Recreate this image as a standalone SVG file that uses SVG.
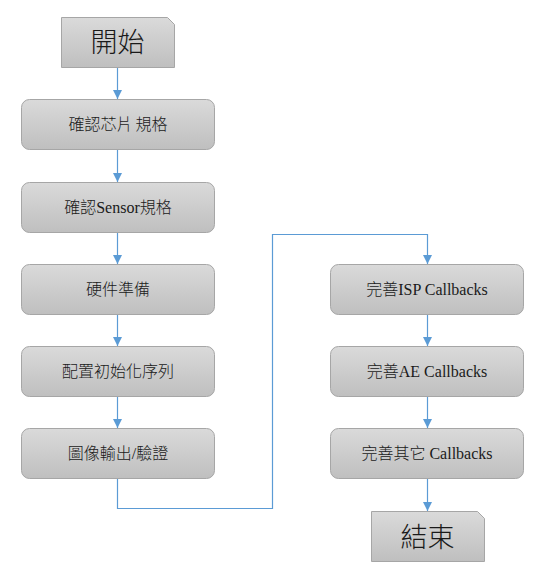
<svg xmlns="http://www.w3.org/2000/svg" width="533" height="570" viewBox="0 0 533 570">
<style>
.box{fill:url(#g);stroke:#a6a6a6;stroke-width:1}
.t{font-family:"Liberation Serif","Noto Sans CJK TC",serif;font-size:16px;font-weight:300;fill:#1a1a1a;text-anchor:middle}
.big{font-family:"Noto Sans CJK TC","Liberation Serif",sans-serif;font-size:27px;font-weight:300;fill:#1a1a1a;text-anchor:middle}
.c{fill:none;stroke:#5b9bd5;stroke-width:1.2}
</style>
<defs>
<linearGradient id="g" x1="0" y1="0" x2="0" y2="1">
<stop offset="0" stop-color="#dadada"/>
<stop offset="1" stop-color="#bfbfbf"/>
</linearGradient>
<marker id="a" viewBox="0 0 10 10" refX="10" refY="5" markerWidth="9" markerHeight="9" markerUnits="userSpaceOnUse" orient="auto">
<path d="M0,0 L10,5 L0,10 z" fill="#5b9bd5"/>
</marker>
</defs>
<g id="connectors">
<path class="c" d="M117.5,67 V99" marker-end="url(#a)"/>
<path class="c" d="M117.5,149 V182" marker-end="url(#a)"/>
<path class="c" d="M117.5,232 V264" marker-end="url(#a)"/>
<path class="c" d="M117.5,314 V346" marker-end="url(#a)"/>
<path class="c" d="M117.5,396 V428" marker-end="url(#a)"/>
<path class="c" d="M117.5,478 V508.5 H272.5 V234.5 H427.5 V264" marker-end="url(#a)"/>
<path class="c" d="M427.5,314 V346" marker-end="url(#a)"/>
<path class="c" d="M427.5,396 V428" marker-end="url(#a)"/>
<path class="c" d="M427.5,478 V511" marker-end="url(#a)"/>
</g>
<g id="start">
<path class="box" d="M61.5,17.5 H167.5 L174.5,24.5 V67.5 H61.5 Z"/>
<text class="big" x="117.5" y="52">開始</text>
</g>
<g id="n1">
<rect class="box" x="21.5" y="99.5" width="193" height="50" rx="8"/>
<text class="t" x="118" y="130">確認芯片<tspan dx="-1"> </tspan>規格</text>
</g>
<g id="n2">
<rect class="box" x="21.5" y="182.5" width="193" height="50" rx="8"/>
<text class="t" x="118" y="213">確認Sensor規格</text>
</g>
<g id="n3">
<rect class="box" x="21.5" y="264.5" width="193" height="50" rx="8"/>
<text class="t" x="118" y="295">硬件準備</text>
</g>
<g id="n4">
<rect class="box" x="21.5" y="346.5" width="193" height="50" rx="8"/>
<text class="t" x="118" y="377">配置初始化序列</text>
</g>
<g id="n5">
<rect class="box" x="21.5" y="428.5" width="193" height="50" rx="8"/>
<text class="t" x="118" y="459">圖像輸出/驗證</text>
</g>
<g id="n6">
<rect class="box" x="330.5" y="264.5" width="193" height="50" rx="8"/>
<text class="t" x="427" y="295">完善ISP Callbacks</text>
</g>
<g id="n7">
<rect class="box" x="330.5" y="346.5" width="193" height="50" rx="8"/>
<text class="t" x="427" y="377">完善AE Callbacks</text>
</g>
<g id="n8">
<rect class="box" x="330.5" y="428.5" width="193" height="50" rx="8"/>
<text class="t" x="427" y="459">完善其它 Callbacks</text>
</g>
<g id="end">
<path class="box" d="M371.5,511.5 H477.5 L484.5,518.5 V561.5 H371.5 Z"/>
<text class="big" x="427.5" y="547">結束</text>
</g>
</svg>
